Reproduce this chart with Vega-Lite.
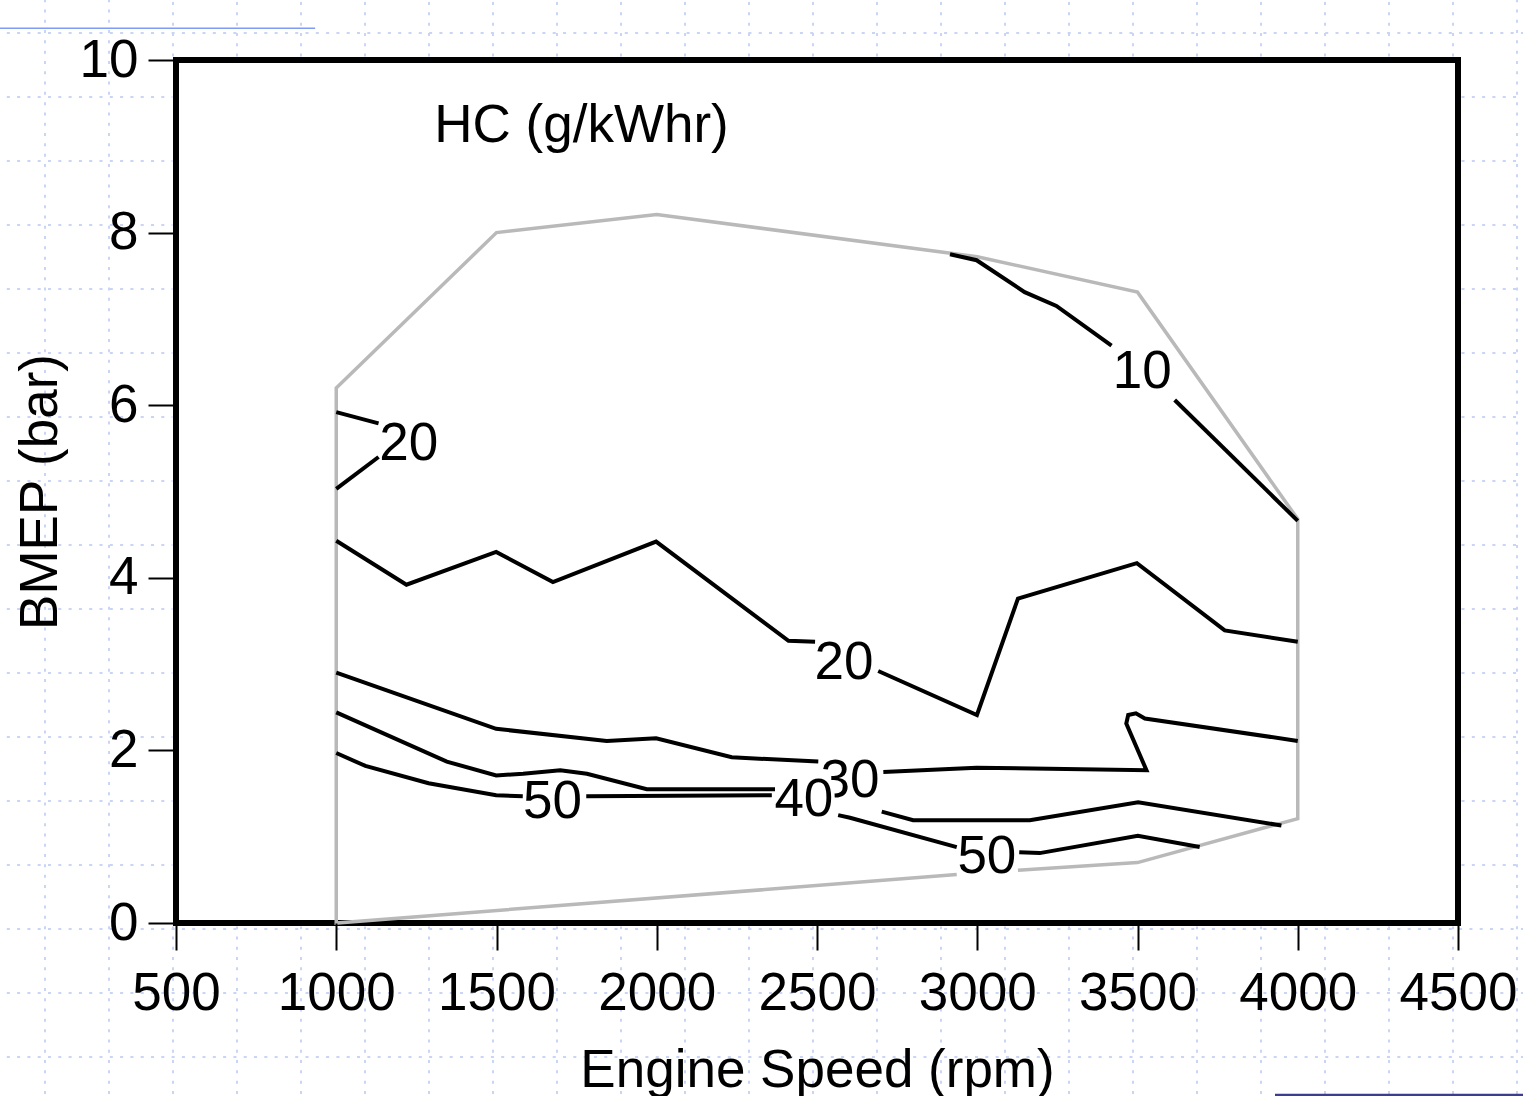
{
  "$schema": "https://vega.github.io/schema/vega-lite/v6.json",
  "width": 1282,
  "height": 863,
  "autosize": {"type": "none"},
  "padding": {"left": 176, "top": 60, "right": 65, "bottom": 173},
  "background": "white",
  "config": {
    "view": {"stroke": null, "fill": "white"},
    "font": "Liberation Sans"
  },
  "datasets": {
    "grid": [
      {"rpm": 91.3, "rpm2": 91.3, "bmep": -2.1, "bmep2": 10.8},
      {"rpm": 291.0, "rpm2": 291.0, "bmep": -2.1, "bmep2": 10.8},
      {"rpm": 4684.2, "rpm2": 4684.2, "bmep": -2.1, "bmep2": 10.8},
      {"rpm": 490.7, "rpm2": 490.7, "bmep": 10.04, "bmep2": 10.8},
      {"rpm": 490.7, "rpm2": 490.7, "bmep": -2.1, "bmep2": -0.04},
      {"rpm": 690.4, "rpm2": 690.4, "bmep": 10.04, "bmep2": 10.8},
      {"rpm": 690.4, "rpm2": 690.4, "bmep": -2.1, "bmep2": -0.04},
      {"rpm": 890.1, "rpm2": 890.1, "bmep": 10.04, "bmep2": 10.8},
      {"rpm": 890.1, "rpm2": 890.1, "bmep": -2.1, "bmep2": -0.04},
      {"rpm": 1089.8, "rpm2": 1089.8, "bmep": 10.04, "bmep2": 10.8},
      {"rpm": 1089.8, "rpm2": 1089.8, "bmep": -2.1, "bmep2": -0.04},
      {"rpm": 1289.4, "rpm2": 1289.4, "bmep": 10.04, "bmep2": 10.8},
      {"rpm": 1289.4, "rpm2": 1289.4, "bmep": -2.1, "bmep2": -0.04},
      {"rpm": 1489.1, "rpm2": 1489.1, "bmep": 10.04, "bmep2": 10.8},
      {"rpm": 1489.1, "rpm2": 1489.1, "bmep": -2.1, "bmep2": -0.04},
      {"rpm": 1688.8, "rpm2": 1688.8, "bmep": 10.04, "bmep2": 10.8},
      {"rpm": 1688.8, "rpm2": 1688.8, "bmep": -2.1, "bmep2": -0.04},
      {"rpm": 1888.5, "rpm2": 1888.5, "bmep": 10.04, "bmep2": 10.8},
      {"rpm": 1888.5, "rpm2": 1888.5, "bmep": -2.1, "bmep2": -0.04},
      {"rpm": 2088.2, "rpm2": 2088.2, "bmep": 10.04, "bmep2": 10.8},
      {"rpm": 2088.2, "rpm2": 2088.2, "bmep": -2.1, "bmep2": -0.04},
      {"rpm": 2287.9, "rpm2": 2287.9, "bmep": 10.04, "bmep2": 10.8},
      {"rpm": 2287.9, "rpm2": 2287.9, "bmep": -2.1, "bmep2": -0.04},
      {"rpm": 2487.6, "rpm2": 2487.6, "bmep": 10.04, "bmep2": 10.8},
      {"rpm": 2487.6, "rpm2": 2487.6, "bmep": -2.1, "bmep2": -0.04},
      {"rpm": 2687.3, "rpm2": 2687.3, "bmep": 10.04, "bmep2": 10.8},
      {"rpm": 2687.3, "rpm2": 2687.3, "bmep": -2.1, "bmep2": -0.04},
      {"rpm": 2886.9, "rpm2": 2886.9, "bmep": 10.04, "bmep2": 10.8},
      {"rpm": 2886.9, "rpm2": 2886.9, "bmep": -2.1, "bmep2": -0.04},
      {"rpm": 3086.6, "rpm2": 3086.6, "bmep": 10.04, "bmep2": 10.8},
      {"rpm": 3086.6, "rpm2": 3086.6, "bmep": -2.1, "bmep2": -0.04},
      {"rpm": 3286.3, "rpm2": 3286.3, "bmep": 10.04, "bmep2": 10.8},
      {"rpm": 3286.3, "rpm2": 3286.3, "bmep": -2.1, "bmep2": -0.04},
      {"rpm": 3486.0, "rpm2": 3486.0, "bmep": 10.04, "bmep2": 10.8},
      {"rpm": 3486.0, "rpm2": 3486.0, "bmep": -2.1, "bmep2": -0.04},
      {"rpm": 3685.7, "rpm2": 3685.7, "bmep": 10.04, "bmep2": 10.8},
      {"rpm": 3685.7, "rpm2": 3685.7, "bmep": -2.1, "bmep2": -0.04},
      {"rpm": 3885.4, "rpm2": 3885.4, "bmep": 10.04, "bmep2": 10.8},
      {"rpm": 3885.4, "rpm2": 3885.4, "bmep": -2.1, "bmep2": -0.04},
      {"rpm": 4085.1, "rpm2": 4085.1, "bmep": 10.04, "bmep2": 10.8},
      {"rpm": 4085.1, "rpm2": 4085.1, "bmep": -2.1, "bmep2": -0.04},
      {"rpm": 4284.8, "rpm2": 4284.8, "bmep": 10.04, "bmep2": 10.8},
      {"rpm": 4284.8, "rpm2": 4284.8, "bmep": -2.1, "bmep2": -0.04},
      {"rpm": 4484.5, "rpm2": 4484.5, "bmep": 10.04, "bmep2": 10.8},
      {"rpm": 4484.5, "rpm2": 4484.5, "bmep": -2.1, "bmep2": -0.04},
      {"rpm": -60, "rpm2": 4710, "bmep": 10.313, "bmep2": 10.313},
      {"rpm": -60, "rpm2": 4710, "bmep": -0.069, "bmep2": -0.069},
      {"rpm": -60, "rpm2": 4710, "bmep": -0.811, "bmep2": -0.811},
      {"rpm": -60, "rpm2": 4710, "bmep": -1.553, "bmep2": -1.553},
      {"rpm": -60, "rpm2": 489, "bmep": 9.571, "bmep2": 9.571},
      {"rpm": 4511, "rpm2": 4710, "bmep": 9.571, "bmep2": 9.571},
      {"rpm": -60, "rpm2": 489, "bmep": 8.830, "bmep2": 8.830},
      {"rpm": 4511, "rpm2": 4710, "bmep": 8.830, "bmep2": 8.830},
      {"rpm": -60, "rpm2": 489, "bmep": 8.088, "bmep2": 8.088},
      {"rpm": 4511, "rpm2": 4710, "bmep": 8.088, "bmep2": 8.088},
      {"rpm": -60, "rpm2": 489, "bmep": 7.347, "bmep2": 7.347},
      {"rpm": 4511, "rpm2": 4710, "bmep": 7.347, "bmep2": 7.347},
      {"rpm": -60, "rpm2": 489, "bmep": 6.605, "bmep2": 6.605},
      {"rpm": 4511, "rpm2": 4710, "bmep": 6.605, "bmep2": 6.605},
      {"rpm": -60, "rpm2": 489, "bmep": 5.863, "bmep2": 5.863},
      {"rpm": 4511, "rpm2": 4710, "bmep": 5.863, "bmep2": 5.863},
      {"rpm": -60, "rpm2": 489, "bmep": 5.122, "bmep2": 5.122},
      {"rpm": 4511, "rpm2": 4710, "bmep": 5.122, "bmep2": 5.122},
      {"rpm": -60, "rpm2": 489, "bmep": 4.380, "bmep2": 4.380},
      {"rpm": 4511, "rpm2": 4710, "bmep": 4.380, "bmep2": 4.380},
      {"rpm": -60, "rpm2": 489, "bmep": 3.639, "bmep2": 3.639},
      {"rpm": 4511, "rpm2": 4710, "bmep": 3.639, "bmep2": 3.639},
      {"rpm": -60, "rpm2": 489, "bmep": 2.897, "bmep2": 2.897},
      {"rpm": 4511, "rpm2": 4710, "bmep": 2.897, "bmep2": 2.897},
      {"rpm": -60, "rpm2": 489, "bmep": 2.155, "bmep2": 2.155},
      {"rpm": 4511, "rpm2": 4710, "bmep": 2.155, "bmep2": 2.155},
      {"rpm": -60, "rpm2": 489, "bmep": 1.414, "bmep2": 1.414},
      {"rpm": 4511, "rpm2": 4710, "bmep": 1.414, "bmep2": 1.414},
      {"rpm": -60, "rpm2": 489, "bmep": 0.672, "bmep2": 0.672},
      {"rpm": 4511, "rpm2": 4710, "bmep": 0.672, "bmep2": 0.672}
    ],
    "frame": [
      {"rpm": 500, "bmep": 0, "i": 0},
      {"rpm": 500, "bmep": 10, "i": 1},
      {"rpm": 4500, "bmep": 10, "i": 2},
      {"rpm": 4500, "bmep": 0, "i": 3},
      {"rpm": 500, "bmep": 0, "i": 4}
    ],
    "lines": [
      {"kind": "boundary", "seg": "b", "i": 0, "rpm": 2936, "bmep": 0.561},
      {"kind": "boundary", "seg": "b", "i": 1, "rpm": 1000, "bmep": 0},
      {"kind": "boundary", "seg": "b", "i": 2, "rpm": 1000, "bmep": 6.2},
      {"kind": "boundary", "seg": "b", "i": 3, "rpm": 1500, "bmep": 8.0},
      {"kind": "boundary", "seg": "b", "i": 4, "rpm": 2000, "bmep": 8.21},
      {"kind": "boundary", "seg": "b", "i": 5, "rpm": 3000, "bmep": 7.72},
      {"kind": "boundary", "seg": "b", "i": 6, "rpm": 3500, "bmep": 7.31},
      {"kind": "boundary", "seg": "b", "i": 7, "rpm": 4000, "bmep": 4.68},
      {"kind": "boundary", "seg": "b", "i": 8, "rpm": 4000, "bmep": 1.21},
      {"kind": "boundary", "seg": "b", "i": 9, "rpm": 3500, "bmep": 0.70},
      {"kind": "boundary", "seg": "b", "i": 10, "rpm": 3127, "bmep": 0.61},

      {"kind": "contour", "seg": "c10a", "i": 0, "rpm": 2915, "bmep": 7.75},
      {"kind": "contour", "seg": "c10a", "i": 1, "rpm": 2998, "bmep": 7.68},
      {"kind": "contour", "seg": "c10a", "i": 2, "rpm": 3148, "bmep": 7.31},
      {"kind": "contour", "seg": "c10a", "i": 3, "rpm": 3247, "bmep": 7.15},
      {"kind": "contour", "seg": "c10a", "i": 4, "rpm": 3419, "bmep": 6.69},
      {"kind": "contour", "seg": "c10b", "i": 0, "rpm": 3616, "bmep": 6.06},
      {"kind": "contour", "seg": "c10b", "i": 1, "rpm": 4000, "bmep": 4.66},

      {"kind": "contour", "seg": "c20a", "i": 0, "rpm": 1000, "bmep": 5.92},
      {"kind": "contour", "seg": "c20a", "i": 1, "rpm": 1132, "bmep": 5.79},
      {"kind": "contour", "seg": "c20b", "i": 0, "rpm": 1132, "bmep": 5.40},
      {"kind": "contour", "seg": "c20b", "i": 1, "rpm": 1000, "bmep": 5.03},

      {"kind": "contour", "seg": "c20c", "i": 0, "rpm": 1000, "bmep": 4.43},
      {"kind": "contour", "seg": "c20c", "i": 1, "rpm": 1219, "bmep": 3.92},
      {"kind": "contour", "seg": "c20c", "i": 2, "rpm": 1499, "bmep": 4.30},
      {"kind": "contour", "seg": "c20c", "i": 3, "rpm": 1676, "bmep": 3.95},
      {"kind": "contour", "seg": "c20c", "i": 4, "rpm": 1998, "bmep": 4.42},
      {"kind": "contour", "seg": "c20c", "i": 5, "rpm": 2411, "bmep": 3.27},
      {"kind": "contour", "seg": "c20c", "i": 6, "rpm": 2494, "bmep": 3.26},
      {"kind": "contour", "seg": "c20d", "i": 0, "rpm": 2691, "bmep": 2.92},
      {"kind": "contour", "seg": "c20d", "i": 1, "rpm": 2999, "bmep": 2.41},
      {"kind": "contour", "seg": "c20d", "i": 2, "rpm": 3127, "bmep": 3.76},
      {"kind": "contour", "seg": "c20d", "i": 3, "rpm": 3498, "bmep": 4.17},
      {"kind": "contour", "seg": "c20d", "i": 4, "rpm": 3772, "bmep": 3.39},
      {"kind": "contour", "seg": "c20d", "i": 5, "rpm": 4000, "bmep": 3.26},

      {"kind": "contour", "seg": "c30a", "i": 0, "rpm": 1000, "bmep": 2.90},
      {"kind": "contour", "seg": "c30a", "i": 1, "rpm": 1499, "bmep": 2.25},
      {"kind": "contour", "seg": "c30a", "i": 2, "rpm": 1844, "bmep": 2.11},
      {"kind": "contour", "seg": "c30a", "i": 3, "rpm": 1998, "bmep": 2.14},
      {"kind": "contour", "seg": "c30a", "i": 4, "rpm": 2234, "bmep": 1.92},
      {"kind": "contour", "seg": "c30a", "i": 5, "rpm": 2504, "bmep": 1.87},
      {"kind": "contour", "seg": "c30b", "i": 0, "rpm": 2707, "bmep": 1.75},
      {"kind": "contour", "seg": "c30b", "i": 1, "rpm": 2998, "bmep": 1.80},
      {"kind": "contour", "seg": "c30b", "i": 2, "rpm": 3528, "bmep": 1.77},
      {"kind": "contour", "seg": "c30b", "i": 3, "rpm": 3465, "bmep": 2.31},
      {"kind": "contour", "seg": "c30b", "i": 4, "rpm": 3471, "bmep": 2.41},
      {"kind": "contour", "seg": "c30b", "i": 5, "rpm": 3495, "bmep": 2.43},
      {"kind": "contour", "seg": "c30b", "i": 6, "rpm": 3523, "bmep": 2.37},
      {"kind": "contour", "seg": "c30b", "i": 7, "rpm": 4000, "bmep": 2.11},

      {"kind": "contour", "seg": "c40a", "i": 0, "rpm": 1000, "bmep": 2.44},
      {"kind": "contour", "seg": "c40a", "i": 1, "rpm": 1345, "bmep": 1.87},
      {"kind": "contour", "seg": "c40a", "i": 2, "rpm": 1499, "bmep": 1.71},
      {"kind": "contour", "seg": "c40a", "i": 3, "rpm": 1583, "bmep": 1.73},
      {"kind": "contour", "seg": "c40a", "i": 4, "rpm": 1699, "bmep": 1.77},
      {"kind": "contour", "seg": "c40a", "i": 5, "rpm": 1782, "bmep": 1.73},
      {"kind": "contour", "seg": "c40a", "i": 6, "rpm": 1969, "bmep": 1.55},
      {"kind": "contour", "seg": "c40a", "i": 7, "rpm": 2369, "bmep": 1.55},
      {"kind": "contour", "seg": "c40b", "i": 0, "rpm": 2702, "bmep": 1.29},
      {"kind": "contour", "seg": "c40b", "i": 1, "rpm": 2800, "bmep": 1.19},
      {"kind": "contour", "seg": "c40b", "i": 2, "rpm": 3164, "bmep": 1.19},
      {"kind": "contour", "seg": "c40b", "i": 3, "rpm": 3502, "bmep": 1.40},
      {"kind": "contour", "seg": "c40b", "i": 4, "rpm": 3949, "bmep": 1.13},

      {"kind": "contour", "seg": "c50a", "i": 0, "rpm": 1000, "bmep": 1.97},
      {"kind": "contour", "seg": "c50a", "i": 1, "rpm": 1091, "bmep": 1.82},
      {"kind": "contour", "seg": "c50a", "i": 2, "rpm": 1288, "bmep": 1.62},
      {"kind": "contour", "seg": "c50a", "i": 3, "rpm": 1499, "bmep": 1.48},
      {"kind": "contour", "seg": "c50a", "i": 4, "rpm": 1582, "bmep": 1.47},
      {"kind": "contour", "seg": "c50b", "i": 0, "rpm": 1780, "bmep": 1.47},
      {"kind": "contour", "seg": "c50b", "i": 1, "rpm": 2359, "bmep": 1.48},
      {"kind": "contour", "seg": "c50c", "i": 0, "rpm": 2566, "bmep": 1.25},
      {"kind": "contour", "seg": "c50c", "i": 1, "rpm": 2603, "bmep": 1.22},
      {"kind": "contour", "seg": "c50c", "i": 2, "rpm": 2936, "bmep": 0.88},
      {"kind": "contour", "seg": "c50d", "i": 0, "rpm": 3131, "bmep": 0.82},
      {"kind": "contour", "seg": "c50d", "i": 1, "rpm": 3195, "bmep": 0.81},
      {"kind": "contour", "seg": "c50d", "i": 2, "rpm": 3501, "bmep": 1.01},
      {"kind": "contour", "seg": "c50d", "i": 3, "rpm": 3694, "bmep": 0.88}
    ],
    "labels": [
      {"label": "10", "rpm": 3515, "bmep": 6.39, "halo": false},
      {"label": "20", "rpm": 1226, "bmep": 5.55, "halo": false},
      {"label": "20", "rpm": 2584, "bmep": 3.01, "halo": false},
      {"label": "30", "rpm": 2603, "bmep": 1.65, "halo": false},
      {"label": "50", "rpm": 1675, "bmep": 1.40, "halo": false},
      {"label": "50", "rpm": 3030, "bmep": 0.76, "halo": false},
      {"label": "40", "rpm": 2459, "bmep": 1.43, "halo": true}
    ]
  },
  "encoding": {
    "x": {
      "field": "rpm", "type": "quantitative",
      "scale": {"domain": [500, 4500], "nice": false, "zero": false},
      "axis": {
        "values": [500, 1000, 1500, 2000, 2500, 3000, 3500, 4000, 4500],
        "domain": false, "grid": false, "zindex": 1,
        "tickSize": 27, "tickWidth": 2, "tickColor": "black",
        "labelFontSize": 53, "labelColor": "black", "labelPadding": 17,
        "labelFlush": false, "labelOverlap": false, "format": "d",
        "title": "Engine Speed (rpm)", "titleFontSize": 53, "titleFontWeight": "normal",
        "titleColor": "black", "titlePadding": 24
      }
    },
    "y": {
      "field": "bmep", "type": "quantitative",
      "scale": {"domain": [0, 10], "nice": false},
      "axis": {
        "values": [0, 2, 4, 6, 8, 10],
        "domain": false, "grid": false, "zindex": 1,
        "tickSize": 28, "tickWidth": 2, "tickColor": "black",
        "labelFontSize": 53, "labelColor": "black", "labelPadding": 10,
        "labelFlush": false, "labelOverlap": false,
        "title": "BMEP (bar)", "titleFontSize": 53, "titleFontWeight": "normal",
        "titleColor": "black", "titlePadding": 12
      }
    }
  },
  "layer": [
    {
      "data": {"name": "grid"},
      "mark": {"type": "rule", "color": "#c9d5f6", "strokeWidth": 2, "strokeDash": [3, 7.3]},
      "encoding": {"x2": {"field": "rpm2"}, "y2": {"field": "bmep2"}}
    },
    {
      "data": {"values": [{"rpm": -60, "rpm2": 934, "bmep": 10.367, "bmep2": 10.367}]},
      "mark": {"type": "rule", "color": "#7f9bf2", "strokeWidth": 1.5},
      "encoding": {"x2": {"field": "rpm2"}, "y2": {"field": "bmep2"}}
    },
    {
      "data": {"values": [{"rpm": 3929, "rpm2": 4710, "bmep": -1.993, "bmep2": -1.993}]},
      "mark": {"type": "rule", "color": "#3d3d8f", "strokeWidth": 2.5},
      "encoding": {"x2": {"field": "rpm2"}, "y2": {"field": "bmep2"}}
    },
    {
      "data": {"name": "frame"},
      "mark": {"type": "line", "color": "black", "strokeWidth": 6, "strokeJoin": "miter", "strokeCap": "square"},
      "encoding": {"order": {"field": "i", "type": "quantitative"}}
    },
    {
      "data": {"name": "lines"},
      "transform": [{"filter": "datum.kind === 'boundary'"}],
      "mark": {"type": "line", "color": "#b9b9b9", "strokeWidth": 3.5},
      "encoding": {"detail": {"field": "seg"}, "order": {"field": "i", "type": "quantitative"}}
    },
    {
      "data": {"name": "lines"},
      "transform": [{"filter": "datum.kind === 'contour'"}],
      "mark": {"type": "line", "color": "black", "strokeWidth": 4},
      "encoding": {"detail": {"field": "seg"}, "order": {"field": "i", "type": "quantitative"}}
    },
    {
      "data": {"name": "labels"},
      "transform": [{"filter": "!datum.halo"}],
      "mark": {"type": "text", "fontSize": 53, "align": "center", "baseline": "middle", "color": "black"},
      "encoding": {"text": {"field": "label"}}
    },
    {
      "data": {"name": "labels"},
      "transform": [{"filter": "datum.halo"}],
      "mark": {"type": "text", "fontSize": 53, "align": "center", "baseline": "middle", "fill": "white", "stroke": "white", "strokeWidth": 7},
      "encoding": {"text": {"field": "label"}}
    },
    {
      "data": {"name": "labels"},
      "transform": [{"filter": "datum.halo"}],
      "mark": {"type": "text", "fontSize": 53, "align": "center", "baseline": "middle", "color": "black"},
      "encoding": {"text": {"field": "label"}}
    },
    {
      "data": {"values": [{"rpm": 1306, "bmep": 9.05, "t": "HC (g/kWhr)"}]},
      "mark": {"type": "text", "fontSize": 53, "align": "left", "baseline": "alphabetic", "color": "black"},
      "encoding": {"text": {"field": "t"}}
    }
  ]
}
